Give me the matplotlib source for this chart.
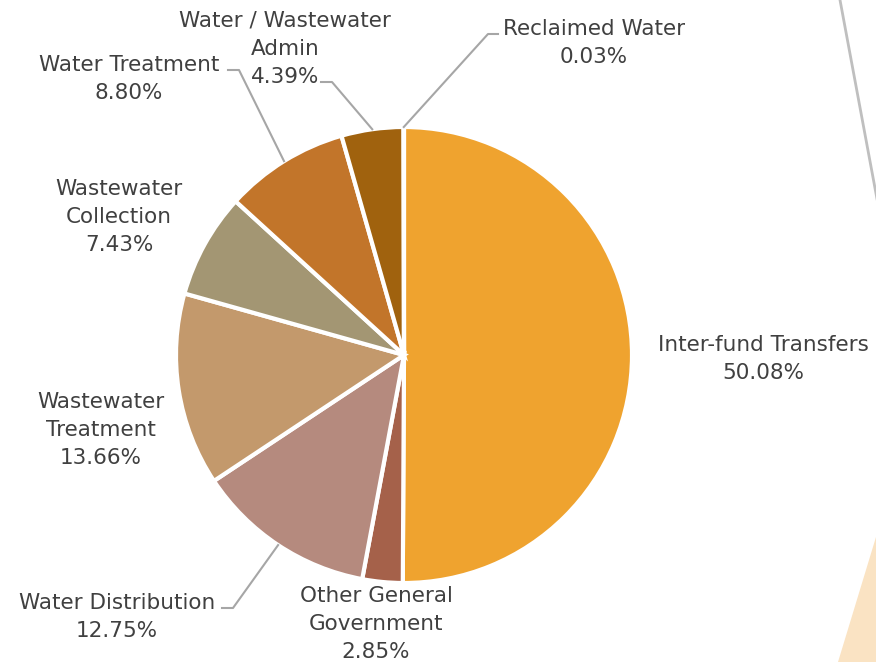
import matplotlib.pyplot as plt
from matplotlib.patches import Polygon
import numpy as np

# department shares of the budget, clockwise from 12 o'clock
names = ['Inter-fund Transfers', 'Other General\nGovernment', 'Water Distribution',
         'Wastewater\nTreatment', 'Wastewater\nCollection', 'Water Treatment',
         'Water / Wastewater\nAdmin', 'Reclaimed Water']
shares = [50.08, 2.85, 12.75, 13.66, 7.43, 8.80, 4.39, 0.03]
colors = ['#EFA32F', '#A5614A', '#B58A7E', '#C3996C', '#A39673', '#C2752A', '#A0620E', '#8FA3B8']

W, H = 876, 662
fig = plt.figure(figsize=(W / 100, H / 100), dpi=100)
ax = fig.add_axes([0, 0, 1, 1])

cx, cy, r = 404, H - 355, 228
ax.pie(shares, colors=colors, startangle=90, counterclock=False,
       center=(cx, cy), radius=r, frame=True,
       wedgeprops=dict(edgecolor='white', linewidth=3))
ax.set_xlim(0, W)
ax.set_ylim(0, H)
ax.set_aspect('equal')
ax.axis('off')

# decoration on the right edge
ax.plot([840, 880], [H, H - 215], color='#BFBFBF', lw=2, zorder=0)
ax.add_patch(Polygon([[838, 0], [876, H - 537], [876, 0]], closed=True,
                     facecolor='#FAE3C3', edgecolor='none', zorder=0))

# centre of the first label line, pixels from the top-left
label_pos = {
    0: (763, 343),
    1: (376, 594),
    2: (117, 601),
    3: (101, 400),
    4: (119, 187),
    5: (129, 63),
    6: (285, 19),
    7: (594, 27),
}
line_gap = 27.8
# leader elbows, the last point goes to the wedge edge
leaders = {
    2: [(222, 608), (233, 608)],
    5: [(228, 70), (239, 70)],
    6: [(321, 82), (332, 82)],
    7: [(498, 34), (488, 34)],
}

total = sum(shares)
cum = 0
for i, (name, v) in enumerate(zip(names, shares)):
    mid = (cum + v / 2) / total * 2 * np.pi
    cum += v
    x, y = label_pos[i]
    lines = name.split('\n') + ['%.2f%%' % v]
    for k, s in enumerate(lines):
        ax.text(x, H - (y + k * line_gap), s, ha='center', va='center_baseline',
                fontsize=15.5, color='#404040')
    if i in leaders:
        ex = cx + r * np.sin(mid)
        ey = cy + r * np.cos(mid)
        pts = leaders[i] + [(ex, H - ey)]
        ax.plot([p[0] for p in pts], [H - p[1] for p in pts],
                color='#A6A6A6', lw=1.5, zorder=3)

fig.savefig('out.png', dpi=100)
